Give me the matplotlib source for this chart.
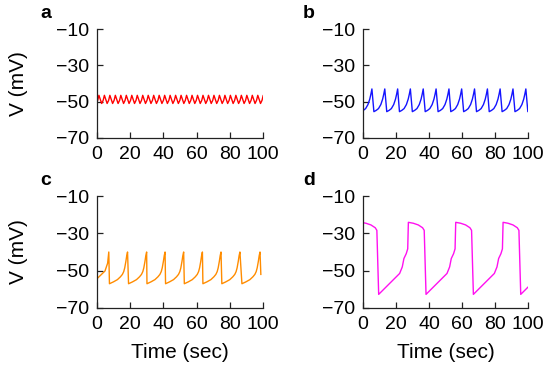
import numpy as np
import matplotlib
matplotlib.use("Agg")
import matplotlib.pyplot as plt

plt.rcParams['font.family'] = ['Liberation Sans', 'DejaVu Sans']

W, H = 547, 371

# x and y ticks shared by every panel
x_ticks = [0, 20, 40, 60, 80, 100]
y_ticks = [-70, -50, -30, -10]

# panel a: small fast oscillation (trough times, one-cycle shape)
a_trough_t = [-0.5, 2.8, 6.1, 9.4, 12.7, 16.0, 19.3, 22.6, 25.9, 29.2, 32.5,
              35.8, 39.1, 42.4, 45.7, 49.0, 52.3, 55.6, 58.9, 62.2, 65.5,
              68.8, 72.1, 75.4, 78.7, 82.0, 85.3, 88.6, 91.9, 95.2, 98.5]
a_shape_dt = [0.0, 0.9, 1.65, 2.5]
a_shape_v = [-51.0, -49.3, -46.5, -48.8]

# panel b: regular spiking
b_trough_t = [-1.2, 6.6, 14.4, 22.1, 29.9, 37.7, 45.5, 53.2, 61.0, 68.8,
              76.5, 84.3, 92.1, 99.9]
b_shape_dt = [0.0, 1.4, 2.8, 4.2, 5.3, 6.0, 6.6]
b_shape_v = [-55.5, -54.8, -53.8, -51.6, -48.6, -45.8, -43.0]

# panel c: slower spiking
c_head_t = [0.0, 4.8, 6.4, 7.1]
c_head_v = [-54.3, -50.2, -46.0, -40.0]
c_trough_t = [7.5, 19.0, 30.1, 41.3, 52.6, 63.8, 75.2, 87.3]
c_shape_dt = [0.0, 2.4, 4.8, 6.6, 7.8, 8.6, 9.2, 9.9, 10.4, 10.9]
c_shape_v = [-57.0, -56.0, -54.8, -53.3, -52.0, -50.5, -48.5, -45.0, -42.0, -40.0]
c_tail_t = [98.7]
c_tail_v = [-52.0]

# panel d: bursting / plateau
d_trough_t = [-19.2, 9.5, 38.2, 66.9, 95.6]
d_shape_dt = [0.0, 6.0, 12.7, 14.3, 15.3, 16.7, 17.6, 18.0, 21.0, 24.0, 26.6, 27.6]
d_shape_v = [-62.7, -57.4, -51.5, -48.0, -43.5, -40.9, -38.3, -24.1, -24.6,
             -25.5, -27.0, -28.4]


def build(trough_t, shape_dt, shape_v):
    ts, vs = [], []
    for t0 in trough_t:
        for dt, v in zip(shape_dt, shape_v):
            ts.append(t0 + dt)
            vs.append(v)
    return ts, vs


a_t, a_v = build(a_trough_t, a_shape_dt, a_shape_v)
b_t, b_v = build(b_trough_t, b_shape_dt, b_shape_v)
c_t, c_v = build(c_trough_t, c_shape_dt, c_shape_v)
c_t = c_head_t + c_t + c_tail_t
c_v = c_head_v + c_v + c_tail_v
d_t, d_v = build(d_trough_t, d_shape_dt, d_shape_v)


def box(l, r, t, b):
    return [l / W, 1 - b / H, (r - l) / W, (b - t) / H]


fig = plt.figure(figsize=(W / 100, H / 100), dpi=100)

panels = [
    ("a", box(97, 263, 29, 138), a_t, a_v, "#ff0000", (46, 14)),
    ("b", box(363, 528, 29, 138), b_t, b_v, "#1414ff", (309, 14)),
    ("c", box(97, 263, 196, 308), c_t, c_v, "#ff8c00", (46, 181)),
    ("d", box(363, 528, 196, 308), d_t, d_v, "#ff10f0", (309, 181)),
]

for letter, rect, t, v, col, lab_pos in panels:
    ax = fig.add_axes(rect)
    ax.plot(t, v, color=col, lw=1.0)
    ax.set_xlim(0, 100)
    ax.set_ylim(-70, -10)
    ax.set_xticks(x_ticks)
    ax.set_yticks(y_ticks)
    ax.spines['top'].set_visible(False)
    ax.spines['right'].set_visible(False)
    for s in ['left', 'bottom']:
        ax.spines[s].set_linewidth(0.9)
        ax.spines[s].set_color('#222222')
    ax.tick_params(direction='in', length=4, width=0.9, labelsize=14,
                   pad=6, color='#222222')
    fig.text(lab_pos[0] / W, 1 - lab_pos[1] / H, letter, fontsize=14,
             fontweight='bold', ha='center', va='center')

# y labels on the left column, x labels on the bottom row
fig.text(18 / W, 1 - 84 / H, "V (mV)", rotation=90, fontsize=15,
         ha='center', va='center')
fig.text(18 / W, 1 - 252 / H, "V (mV)", rotation=90, fontsize=15,
         ha='center', va='center')
fig.text(180 / W, 1 - 352 / H, "Time (sec)", fontsize=15,
         ha='center', va='center')
fig.text(446 / W, 1 - 352 / H, "Time (sec)", fontsize=15,
         ha='center', va='center')

fig.savefig("out.png", dpi=100)
